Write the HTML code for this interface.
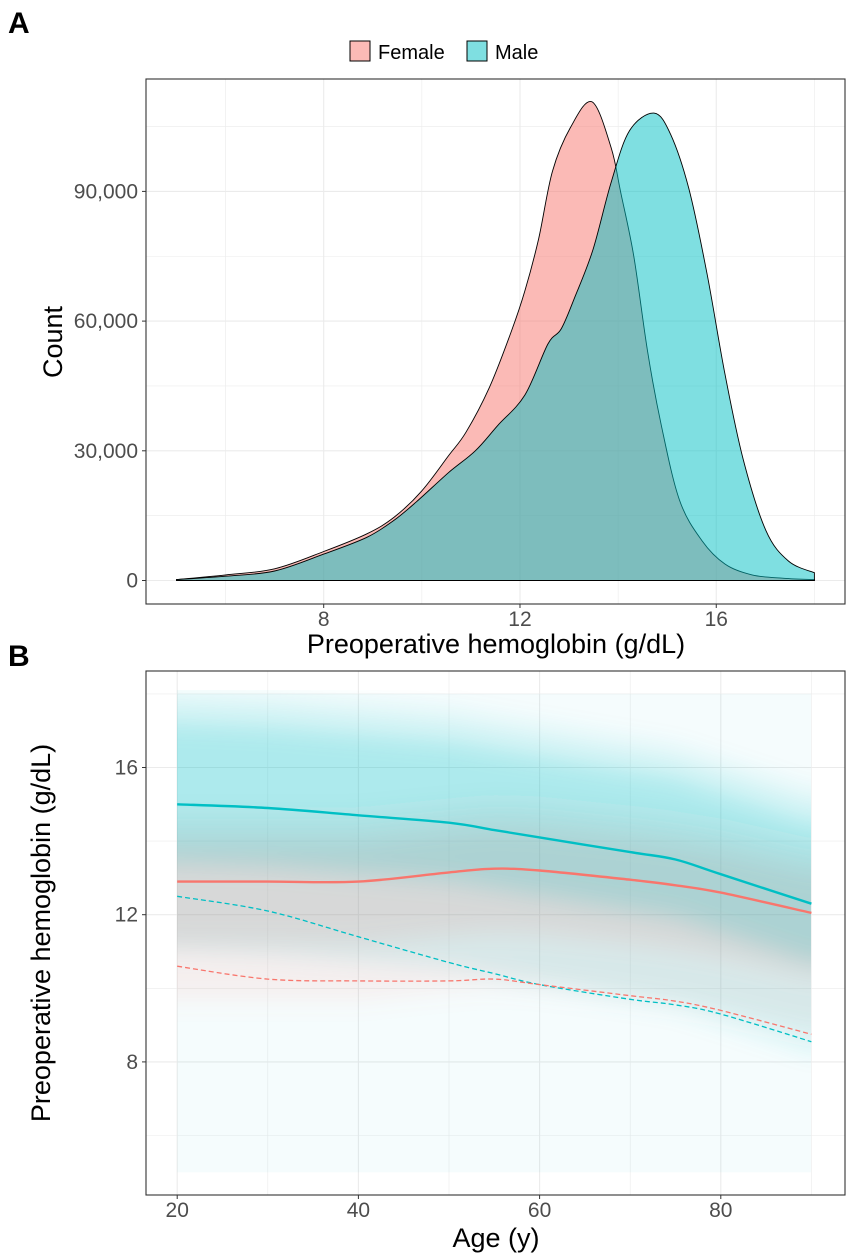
<!DOCTYPE html>
<html><head><meta charset="utf-8"><style>
body{margin:0;background:#fff;}
svg{display:block;font-family:"Liberation Sans",Arial,sans-serif;}
</style></head><body>
<svg id="chart" width="851" height="1257" viewBox="0 0 851 1257">
<defs>
<filter id="blur" x="-20%" y="-20%" width="140%" height="140%"><feGaussianBlur stdDeviation="12"/></filter>
<clipPath id="clipB"><rect x="177" y="690" width="634" height="490"/></clipPath>
</defs>
<text x="8" y="33" font-size="30" font-weight="bold">A</text>
<text x="8" y="666" font-size="30" font-weight="bold">B</text>
<g>
<g>
<rect x="350" y="41" width="20" height="20" fill="#F8766D" fill-opacity="0.5" stroke="#000" stroke-width="1"/>
<text x="378" y="59" font-size="20">Female</text></g>
<g>
<rect x="467" y="41" width="20" height="20" fill="#00BFC4" fill-opacity="0.5" stroke="#000" stroke-width="1"/>
<text x="495" y="59" font-size="20">Male</text></g>
</g>
<g id="panelA"></g>
<g id="panelB"></g>
<text x="496" y="653" font-size="27" text-anchor="middle" fill="#000">Preoperative hemoglobin (g/dL)</text>
<text transform="translate(62,342) rotate(-90)" font-size="27" text-anchor="middle" fill="#000">Count</text>
<text x="496" y="1247" font-size="27" text-anchor="middle" fill="#000">Age (y)</text>
<text transform="translate(50,933) rotate(-90)" font-size="27" text-anchor="middle" fill="#000">Preoperative hemoglobin (g/dL)</text>
</svg>
<script>
// Panel A data
const hbGridF = [5,6,7,8,8.88,9.43,9.99,10.54,10.9,11.37,11.83,12.1,12.38,12.66,13.03,13.47,13.86,14.05,14.32,14.6,14.88,15.25,15.71,16.18,16.73,17.38,18];
const femaleCount = [0.2,1.3,2.7,6.7,10.8,14.6,20.6,28.8,34.3,44.5,57.8,67,79,94.6,104.8,110.7,100,89.9,75,53,35.9,18.6,9.2,3.8,1.3,0.5,0.2];
const hbGridM = [5,6,7,8,8.88,9.43,9.89,10.54,11.09,11.55,12.1,12.57,12.84,13.12,13.49,13.86,14.23,14.73,15.07,15.44,15.81,16.18,16.55,17.01,17.47,18];
const maleCount = [0.2,1.0,2.2,6.1,10.0,13.9,18.2,24.9,30,35.9,42.9,54.7,58.2,65.6,76.6,92.2,104,108.1,103.2,90.7,71.1,47.6,28,11.6,4.5,1.8];
const xTicksA = [8,12,16];
const yTicksA = [0,30000,60000,90000];
const yTickLabelsA = ["0","30,000","60,000","90,000"];
// Panel B data
const ageGrid = [20,30,40,50,55,60,70,75,80,90];
const maleMean = [15.0,14.9,14.7,14.5,14.3,14.1,13.7,13.5,13.1,12.3];
const femaleMean = [12.9,12.9,12.9,13.15,13.25,13.2,12.95,12.8,12.6,12.05];
const maleLow = [12.5,12.1,11.4,10.7,10.4,10.1,9.7,9.55,9.3,8.55];
const femaleLow = [10.6,10.25,10.2,10.2,10.25,10.1,9.8,9.65,9.4,8.75];
const xTicksB = [20,40,60,80];
const yTicksB = [8,12,16];

const NS="http://www.w3.org/2000/svg";
function mk(tag,attrs,parent){const e=document.createElementNS(NS,tag);for(const k in attrs)e.setAttribute(k,attrs[k]);parent.appendChild(e);return e;}
function smooth(pts){let d='M'+pts[0][0].toFixed(1)+','+pts[0][1].toFixed(1);
for(let i=0;i<pts.length-1;i++){const p0=pts[Math.max(i-1,0)],p1=pts[i],p2=pts[i+1],p3=pts[Math.min(i+2,pts.length-1)];
const c1=[p1[0]+(p2[0]-p0[0])/6,p1[1]+(p2[1]-p0[1])/6],c2=[p2[0]-(p3[0]-p1[0])/6,p2[1]-(p3[1]-p1[1])/6];
d+=' C'+c1[0].toFixed(1)+','+c1[1].toFixed(1)+' '+c2[0].toFixed(1)+','+c2[1].toFixed(1)+' '+p2[0].toFixed(1)+','+p2[1].toFixed(1);}
return d;}

// ---- Panel A
const A={l:146,r:845,t:79,b:604};
const xA=v=>323.7+(v-8)*49.07;
const yA=v=>580.5-v*(389.1/90000);
const gA=document.getElementById('panelA');
mk('rect',{x:A.l,y:A.t,width:A.r-A.l,height:A.b-A.t,fill:'#fff'},gA);
[6,10,14,18].forEach(v=>{mk('line',{x1:xA(v),x2:xA(v),y1:A.t,y2:A.b,stroke:'#ebebeb','stroke-width':0.6},gA);});
[15000,45000,75000,105000].forEach(v=>{mk('line',{x1:A.l,x2:A.r,y1:yA(v),y2:yA(v),stroke:'#ebebeb','stroke-width':0.6},gA);});
xTicksA.forEach(v=>{mk('line',{x1:xA(v),x2:xA(v),y1:A.t,y2:A.b,stroke:'#ebebeb','stroke-width':1.1},gA);
mk('line',{x1:xA(v),x2:xA(v),y1:A.b,y2:A.b+4,stroke:'#333','stroke-width':1},gA);
const t=mk('text',{x:xA(v),y:A.b+22,'font-size':21,'text-anchor':'middle',fill:'#4d4d4d'},gA);t.textContent=v;

});
yTicksA.forEach((v,i)=>{mk('line',{x1:A.l,x2:A.r,y1:yA(v),y2:yA(v),stroke:'#ebebeb','stroke-width':1.1},gA);
mk('line',{x1:A.l-4,x2:A.l,y1:yA(v),y2:yA(v),stroke:'#333','stroke-width':1},gA);
const t=mk('text',{x:A.l-8,y:yA(v)+7,'font-size':21,'text-anchor':'end',fill:'#4d4d4d'},gA);t.textContent=yTickLabelsA[i];

});
function areaPath(xs,ys){const pts=xs.map((x,i)=>[xA(x),yA(ys[i]*1000)]);
return 'M'+xA(xs[0]).toFixed(1)+','+yA(0).toFixed(1)+' L'+smooth(pts).slice(1)+' L'+xA(xs[xs.length-1]).toFixed(1)+','+yA(0).toFixed(1)+' Z';}
const pf=mk('path',{d:areaPath(hbGridF,femaleCount),fill:'#F8766D','fill-opacity':0.5,stroke:'#000','stroke-width':0.9},gA);


const pm=mk('path',{d:areaPath(hbGridM,maleCount),fill:'#00BFC4','fill-opacity':0.5,stroke:'#000','stroke-width':0.9},gA);


mk('rect',{x:A.l,y:A.t,width:A.r-A.l,height:A.b-A.t,fill:'none',stroke:'#333','stroke-width':1.1},gA);

// ---- Panel B
const B={l:146,r:845,t:671,b:1195};
const xB=v=>177.2+(v-20)*9.06;
const yB=v=>914.7-(v-12)*36.8;
const gB=document.getElementById('panelB');
mk('rect',{x:B.l,y:B.t,width:B.r-B.l,height:B.b-B.t,fill:'#fff'},gB);
[30,50,70,90].forEach(v=>{mk('line',{x1:xB(v),x2:xB(v),y1:B.t,y2:B.b,stroke:'#ebebeb','stroke-width':0.6},gB);});
[6,10,14,18].forEach(v=>{mk('line',{x1:B.l,x2:B.r,y1:yB(v),y2:yB(v),stroke:'#ebebeb','stroke-width':0.6},gB);});
xTicksB.forEach(v=>{mk('line',{x1:xB(v),x2:xB(v),y1:B.t,y2:B.b,stroke:'#ebebeb','stroke-width':1.1},gB);
mk('line',{x1:xB(v),x2:xB(v),y1:B.b,y2:B.b+4,stroke:'#333','stroke-width':1},gB);
const t=mk('text',{x:xB(v),y:B.b+22,'font-size':21,'text-anchor':'middle',fill:'#4d4d4d'},gB);t.textContent=v;

});
yTicksB.forEach(v=>{mk('line',{x1:B.l,x2:B.r,y1:yB(v),y2:yB(v),stroke:'#ebebeb','stroke-width':1.1},gB);
mk('line',{x1:B.l-4,x2:B.l,y1:yB(v),y2:yB(v),stroke:'#333','stroke-width':1},gB);
const t=mk('text',{x:B.l-8,y:yB(v)+7,'font-size':21,'text-anchor':'end',fill:'#4d4d4d'},gB);t.textContent=v;

});
// point cloud approximated as density bands around smoother lines
const cloud=mk('g',{'clip-path':'url(#clipB)'},gB);


mk('rect',{x:xB(20),y:yB(18),width:xB(90)-xB(20),height:yB(5)-yB(18),fill:'#00BFC4','fill-opacity':0.04},cloud);
const blurG=mk('g',{filter:'url(#blur)'},cloud);
function band(mean,lo,hi,color,op){let top='',bot='';const ext=[10].concat(ageGrid,[100]);const m=[mean[0]].concat(mean,[mean[mean.length-1]]);
ext.forEach((a,i)=>{top+=(i?' L':'M')+xB(a).toFixed(1)+','+yB(m[i]+hi).toFixed(1);});
for(let i=ext.length-1;i>=0;i--){bot+=' L'+xB(ext[i]).toFixed(1)+','+yB(m[i]-lo).toFixed(1);}
mk('path',{d:top+bot+' Z',fill:color,'fill-opacity':op},blurG);}
band(femaleMean,3.2,1.8,'#F8766D',0.1);
band(femaleMean,1.7,1.1,'#F8766D',0.16);
band(maleMean,4.0,3.0,'#00BFC4',0.12);
band(maleMean,1.6,2.2,'#00BFC4',0.2);
function line(xs,ys,color,w,dash,name){const pts=xs.map((a,i)=>[xB(a),yB(ys[i])]);
const p=mk('path',{d:smooth(pts),fill:'none',stroke:color,'stroke-width':w,'stroke-linejoin':'round'},gB);if(dash)p.setAttribute('stroke-dasharray',dash);

}
line(ageGrid,maleLow,'#00BFC4',1.3,'5,3','male-lower-line');
line(ageGrid,femaleLow,'#F8766D',1.3,'5,3','female-lower-line');
line(ageGrid,femaleMean,'#F8766D',2.4,null,'female-mean-line');
line(ageGrid,maleMean,'#00BFC4',2.4,null,'male-mean-line');
mk('rect',{x:B.l,y:B.t,width:B.r-B.l,height:B.b-B.t,fill:'none',stroke:'#333','stroke-width':1.1},gB);
</script>
</body></html>
